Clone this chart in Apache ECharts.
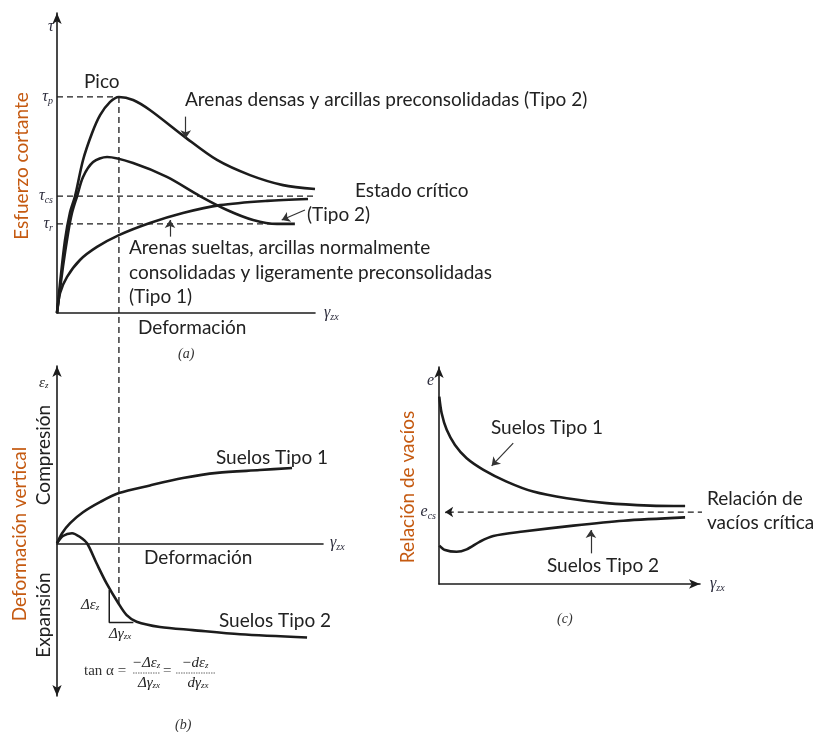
<!DOCTYPE html>
<html><head><meta charset="utf-8">
<script src="https://cdn.jsdelivr.net/npm/echarts@6/dist/echarts.min.js"></script>
<style>html,body{margin:0;padding:0;background:#fff}#c{width:814px;height:732px}</style>
</head><body><div id="c"></div>
<script>
// ---------- Panel (a): shear stress vs shear strain ----------
const shearDense = [[0,0],[1.2,10],[3.1,24],[5,33],[7,38.6],[10.1,50.5],[13.6,59.4],[16.7,65.3],[20.5,69.6],[24,71.3],[29.5,70.3],[36,67],[50,57.8],[62,50.5],[74.8,45.5],[87.6,42.2],[100,40.9]];
const shearMid = [[0,0],[2.3,15.2],[4.3,26.4],[5.8,33],[7.8,38.6],[10.1,44.9],[14,49.8],[19.4,51.5],[29.5,49.5],[42.6,44.9],[55.4,38.6],[65.9,34],[76,30.7],[85.3,29.4],[92.2,29.4]];
const shearLoose = [[0,0],[1.2,6.6],[3.9,11.9],[8.9,17.5],[15.5,21.8],[24,25.7],[36,29.7],[48.8,33],[63.2,35.6],[81.4,37],[97.3,37.6]];
const tauValues = [71.3, 38.6, 29.4];          // tau_p, tau_cs, tau_r
const tauSubs = ['p', 'cs', 'r'];
const peakStrain = 24;
const peakLineBottom = -95.7;                   // dashed guide runs down into panel (b)
const criticalLineEnd = 111.6;
const residualLineEnd = 90.3;
const arrowsA = [[[49.9,64.8],[49.9,57.7]], [[43.8,25.2],[43.8,30.7]], [[96.1,34],[87.1,30.7]]];

// ---------- Panel (b): vertical strain vs shear strain ----------
const volType1 = [[0,0],[1.9,2.9],[4.9,5.8],[9.7,8.9],[16,11.8],[23.1,14.4],[34.7,16.6],[47,18.7],[59.7,20.2],[75.7,21],[87.7,21.6]];
const volType2 = [[0,0],[2.2,2.1],[5.6,2.9],[8.6,1.8],[11.2,0],[14.8,-5.8],[18.5,-11.5],[22.9,-17.2],[26,-20.6],[29.7,-22.5],[38.4,-24],[50.7,-24.9],[68.3,-26.1],[93.3,-27]];
const slopeTriangle = [[19.5,-13.4],[19.5,-22.7],[28.5,-22.7]];

// ---------- Panel (c): void ratio vs shear strain ----------
const voidType1 = [[0.1,84.4],[1,76.9],[2.9,69.4],[6,62.6],[10.4,56.6],[16.7,51.4],[25.4,46.1],[35.4,41.6],[48,38.6],[63,36.4],[79.3,35.3],[92.5,35.1]];
const voidType2 = [[0.1,17.3],[2.3,15.3],[6.6,14.5],[10.4,15.6],[15.4,19.1],[20.4,21.6],[31.6,23.6],[50.5,26.3],[69.3,28.5],[92.5,30]];
const criticalVoid = 32.4;
const criticalVoidSpan = [2.3, 100];
const arrowsC = [[[27.9,63.4],[19.8,53.2]], [[57.1,13.8],[57.1,24.3]]];

const INK = '#1c1c1c';
const TXT = '#222';
const ORANGE = '#c55a11';
const MATH = '"Liberation Serif","DejaVu Serif",serif';
const SANS = 'Lato,"Open Sans",sans-serif';
const FS = 19;

const subRich = {
  m: {fontFamily: MATH, fontStyle: 'italic', fontSize: 16, color: '#2b2b3b', lineHeight: 18, verticalAlign: 'middle'},
  s: {fontFamily: MATH, fontStyle: 'italic', fontSize: 10, color: '#2b2b3b', lineHeight: 11, verticalAlign: 'bottom', padding: [6,0,0,0]}
};
const gammaName = '{m|γ}{s|zx}';

function xAx(grid, max, gap, arrow) {
  return {gridIndex: grid, type: 'value', min: 0, max: max,
    axisLine: {show: true, onZero: true, symbol: arrow ? ['none','arrow'] : ['none','none'], symbolSize: [7,11], lineStyle: {color: INK, width: 1.6}},
    axisTick: {show: false}, axisLabel: {show: false}, splitLine: {show: false},
    name: gammaName, nameLocation: 'end', nameGap: gap, nameTextStyle: {rich: subRich}};
}
function yAx(grid, min, max, symbols, labels) {
  const ax = {gridIndex: grid, type: 'value', min: min, max: max,
    axisLine: {show: true, onZero: true, symbol: symbols, symbolSize: [7,11], lineStyle: {color: INK, width: 1.6}},
    axisTick: {show: false}, splitLine: {show: false}, axisLabel: {show: false}};
  if (labels) ax.axisLabel = labels;
  return ax;
}
function curve(data, xi, extra) {
  return Object.assign({type: 'line', data: data, xAxisIndex: xi, yAxisIndex: xi, smooth: 0.3,
    symbol: 'none', clip: false, silent: true, lineStyle: {color: INK, width: 2.6}}, extra || {});
}
function dashed(data, xi) {
  return {type: 'line', data: data, xAxisIndex: xi, yAxisIndex: xi, symbol: 'none', clip: false, silent: true,
    lineStyle: {color: INK, width: 1.3, type: [6,4]}};
}
function arrowMarks(list, style) {
  return {silent: true, symbol: ['none','arrow'], symbolSize: 8, animation: false,
    lineStyle: style || {color: '#333', width: 1.2, type: 'solid'}, label: {show: false},
    data: list.map(p => [{coord: p[0]}, {coord: p[1]}])};
}

function txt(x, y, text, o) {
  o = o || {};
  return {type: 'text', x: x, y: y, rotation: o.rot || 0, silent: true,
    style: {text: text, fill: o.color || TXT, font: o.font || (FS + 'px ' + SANS),
      textAlign: o.align || 'left', textVerticalAlign: 'middle', rich: o.rich}};
}
const fr = {
  n: {fontFamily: MATH, fontStyle: 'italic', fontSize: 15, color: '#333'},
  s: {fontFamily: MATH, fontStyle: 'italic', fontSize: 9, color: '#333', verticalAlign: 'bottom', padding: [6,0,0,0]}
};
const mathFont = 'italic 16px ' + MATH;
const labelFont = 'italic 14px ' + MATH;

const option = {
  animation: false,
  backgroundColor: '#fff',
  grid: [
    {left: 57, top: 13, width: 258, height: 300, containLabel: false, outerBoundsMode: 'none'},
    {left: 57, top: 366, width: 266, height: 330, containLabel: false, outerBoundsMode: 'none'},
    {left: 439, top: 367, width: 261, height: 217, containLabel: false, outerBoundsMode: 'none'}
  ],
  xAxis: [xAx(0, 100, 9, false), xAx(1, 99.25, 7, false), xAx(2, 98.1, 10, true)],
  yAxis: [
    yAx(0, 0, 99, ['none','arrow'], {show: true, customValues: tauValues, margin: 4,
      formatter: v => '{m|τ}{s|' + tauSubs[tauValues.indexOf(v)] + '}', rich: subRich}),
    yAx(1, -43.8, 50.85, ['arrow','arrow']),
    yAx(2, 0, 97.7, ['none','arrow'], {show: true, customValues: [criticalVoid], margin: 3,
      formatter: () => '{m|e}{s|cs}', rich: subRich})
  ],
  series: [
    curve(shearDense, 0, {markLine: arrowMarks(arrowsA)}),
    curve(shearMid, 0),
    curve(shearLoose, 0),
    dashed([[0, tauValues[0]], [peakStrain, tauValues[0]]], 0),
    dashed([[peakStrain, tauValues[0]], [peakStrain, peakLineBottom]], 0),
    dashed([[0, tauValues[1]], [criticalLineEnd, tauValues[1]]], 0),
    dashed([[0, tauValues[2]], [residualLineEnd, tauValues[2]]], 0),

    curve(volType1, 1),
    curve(volType2, 1),
    {type: 'line', data: slopeTriangle, xAxisIndex: 1, yAxisIndex: 1, symbol: 'none', silent: true, clip: false,
      lineStyle: {color: INK, width: 1.5}},

    curve(voidType1, 2, {markLine: arrowMarks(arrowsC)}),
    curve(voidType2, 2, {markLine: arrowMarks([[[criticalVoidSpan[0] + 2.5, criticalVoid], [criticalVoidSpan[0], criticalVoid]]],
      {color: INK, width: 1.3, type: 'solid'})}),
    dashed([[criticalVoidSpan[0] + 1, criticalVoid], [criticalVoidSpan[1], criticalVoid]], 2)
  ],
  graphic: [
    // panel (a)
    txt(48, 27, 'τ', {font: mathFont, color: '#2b2b3b'}),
    txt(84, 82, 'Pico'),
    txt(185, 100, 'Arenas densas y arcillas preconsolidadas (Tipo 2)'),
    txt(355, 191, 'Estado crítico'),
    txt(307, 215, '(Tipo 2)'),
    txt(129, 248, 'Arenas sueltas, arcillas normalmente'),
    txt(129, 273, 'consolidadas y ligeramente preconsolidadas'),
    txt(129, 297, '(Tipo 1)'),
    txt(138, 328, 'Deformación'),
    txt(178, 354, '(a)', {font: labelFont, color: '#333'}),
    txt(22, 166, 'Esfuerzo cortante', {rot: Math.PI/2, align: 'center', color: ORANGE}),
    // panel (b)
    txt(39, 383, '{n|ε}{s|z}', {rich: fr}),
    txt(216, 458, 'Suelos Tipo 1'),
    txt(144, 558, 'Deformación'),
    txt(219, 621, 'Suelos Tipo 2'),
    txt(81, 605, '{n|Δε}{s|z}', {rich: fr}),
    txt(109, 634, '{n|Δγ}{s|zx}', {rich: fr}),
    txt(84, 671, 'tan α =', {font: '15px ' + MATH, color: '#333'}),
    txt(146, 663, '{n|−Δε}{s|z}', {rich: fr, align: 'center'}),
    {type: 'line', silent: true, shape: {x1: 133, y1: 673, x2: 160, y2: 673}, style: {stroke: '#444', lineWidth: 0.8, lineDash: [1.5,1]}},
    txt(149, 683, '{n|Δγ}{s|zx}', {rich: fr, align: 'center'}),
    txt(163, 671, '=', {font: '15px ' + MATH, color: '#333'}),
    txt(195, 663, '{n|−dε}{s|z}', {rich: fr, align: 'center'}),
    {type: 'line', silent: true, shape: {x1: 176, y1: 673, x2: 215, y2: 673}, style: {stroke: '#444', lineWidth: 0.8, lineDash: [1.5,1]}},
    txt(198, 683, '{n|dγ}{s|zx}', {rich: fr, align: 'center'}),
    txt(175, 725, '(b)', {font: labelFont, color: '#333'}),
    txt(20, 534, 'Deformación vertical', {rot: Math.PI/2, align: 'center', color: ORANGE}),
    txt(44, 455, 'Compresión', {rot: Math.PI/2, align: 'center'}),
    txt(44, 615, 'Expansión', {rot: Math.PI/2, align: 'center'}),
    // panel (c)
    txt(427, 381, 'e', {font: mathFont, color: '#2b2b3b'}),
    txt(491, 428, 'Suelos Tipo 1'),
    txt(707, 499, 'Relación de'),
    txt(707, 523, 'vacíos crítica'),
    txt(547, 566, 'Suelos Tipo 2'),
    txt(557, 619, '(c)', {font: labelFont, color: '#333'}),
    txt(408, 487, 'Relación de vacíos', {rot: Math.PI/2, align: 'center', color: ORANGE})
  ]
};
const chart = echarts.init(document.getElementById('c'));
chart.setOption(option);
</script>
</body></html>
